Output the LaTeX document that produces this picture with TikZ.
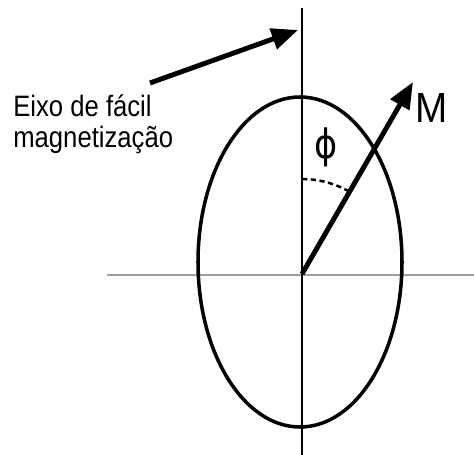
\documentclass[tikz,border=0pt]{standalone}
\usepackage{fontspec}
\setmainfont{Liberation Sans}
\newfontfamily\symfont{DejaVu Sans}
\usepackage{graphicx}
\usetikzlibrary{arrows.meta}

\tikzset{
  axisline/.style={line width=1.5pt},
  thickarrow/.style={line width=2.8pt, -{Triangle[length=15pt, width=12pt]}},
  labeltext/.style={anchor=base west, inner sep=0pt},
}

\begin{document}
\begin{tikzpicture}[x=0.02cm, y=0.02cm]
    \useasboundingbox (0,0) rectangle (474,-455);

    % Axes
    \coordinate (O) at (302,-274);
    \coordinate (vtop) at (302,-8);
    \coordinate (vbot) at (302,-455);
    \coordinate (hleft) at (107,-275);
    \coordinate (hright) at (474,-275);
    \draw[gray!75, line width=1.2pt] (hleft) -- (hright);
    \draw[axisline] (vtop) -- (vbot);

    % Ellipse
    \draw[line width=2pt] (300,-262) ellipse [x radius=102, y radius=165];

    % Magnetization vector and angle
    \coordinate (Mtip) at (413,-82);
    \draw[thickarrow] (O) -- (Mtip);
    \draw[line width=1.4pt, dash pattern=on 3pt off 2pt] (302,-179) arc[start angle=90, end angle=60, radius=95];
    \node[inner sep=0pt, font=\symfont\fontsize{20}{24}\selectfont] (phi) at (326,-147) {\scalebox{1}[1.15]{ϕ}};
    \node[labeltext, font=\fontsize{22}{26}\selectfont] (M) at (415,-123) {\scalebox{1}[1.09]{M}};

    % Easy axis label
    \node[labeltext, font=\fontsize{14.6}{17}\selectfont] (lbl1) at (13,-117) {\scalebox{1}[1.15]{Eixo de fácil}};
    \node[labeltext, font=\fontsize{14.6}{17}\selectfont] (lbl2) at (13,-148) {\scalebox{1}[1.15]{magnetização}};
    \coordinate (ptail) at (150,-83);
    \coordinate (ptip) at (298,-30);
    \draw[thickarrow] (ptail) -- (ptip);
\end{tikzpicture}
\end{document}
